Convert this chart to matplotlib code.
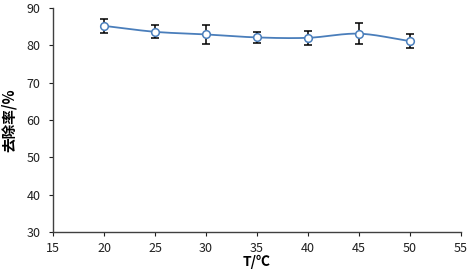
import matplotlib
matplotlib.use('Agg')
import matplotlib.pyplot as plt
import numpy as np

plt.rcParams['font.family'] = ['Noto Sans CJK SC', 'DejaVu Sans']

temps = [20, 25, 30, 35, 40, 45, 50]
removal = [85.2, 83.6, 82.9, 82.1, 82.0, 83.1, 81.1]
err = [1.8, 1.7, 2.6, 1.4, 1.8, 2.8, 1.8]

def catmull(x, y, n=30):
       # excel-like smoothed line
       x = np.asarray(x, float); y = np.asarray(y, float)
       px = np.concatenate([[2*x[0]-x[1]], x, [2*x[-1]-x[-2]]])
       py = np.concatenate([[2*y[0]-y[1]], y, [2*y[-1]-y[-2]]])
       xs, ys = [], []
       for i in range(1, len(px)-2):
              t = np.linspace(0, 1, n)
              for p, out in ((px, xs), (py, ys)):
                     p0, p1, p2, p3 = p[i-1], p[i], p[i+1], p[i+2]
                     out.extend(0.5*((2*p1) + (-p0+p2)*t + (2*p0-5*p1+4*p2-p3)*t**2 + (-p0+3*p1-3*p2+p3)*t**3))
       return xs, ys

fig = plt.figure(figsize=(4.68, 2.73), dpi=100)
ax = fig.add_axes([0.1135, 0.150, 0.8715, 0.821])

sx, sy = catmull(temps, removal)
ax.plot(sx, sy, color='#4A7EBB', lw=1.3, zorder=2)
ax.errorbar(temps, removal, yerr=err, fmt='none', ecolor='black', elinewidth=1.1,
            capsize=3, capthick=1.1, zorder=3)
ax.plot(temps, removal, 'o', ms=5.5, mfc='white', mec='#4A7EBB', mew=1.1, zorder=4)

ax.set_xlim(15, 55)
ax.set_ylim(30, 90)
ax.set_xticks(range(15, 56, 5))
ax.set_yticks(range(30, 91, 10))
for s in ['top', 'right']:
       ax.spines[s].set_visible(False)
for s in ['left', 'bottom']:
       ax.spines[s].set_color('#404040')
       ax.spines[s].set_linewidth(1.0)
ax.tick_params(direction='out', length=3, width=0.8, labelsize=9, colors='#202020', pad=6)
ax.xaxis.set_tick_params(pad=4)

ax.set_xlabel('T/℃', fontsize=10, fontweight='bold', labelpad=0)
ax.set_ylabel('去除率/%', fontsize=10.5, fontweight='bold', labelpad=7)

fig.savefig('out.png', dpi=100)
